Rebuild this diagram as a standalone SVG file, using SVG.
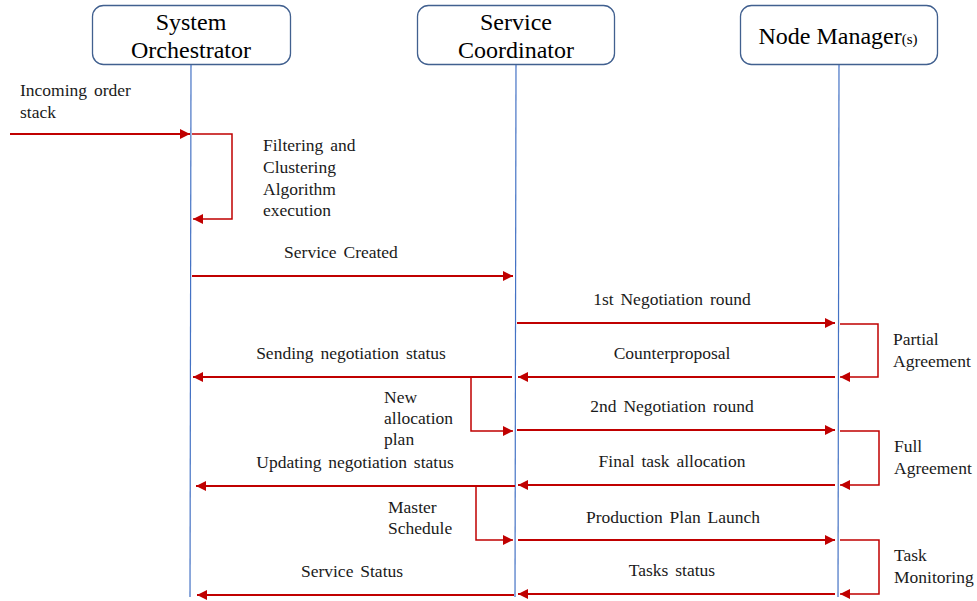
<svg xmlns="http://www.w3.org/2000/svg" width="977" height="601" viewBox="0 0 977 601">
  <defs>
    <marker id="ah" viewBox="0 0 10 10" refX="10" refY="5" markerWidth="10" markerHeight="10" markerUnits="userSpaceOnUse" orient="auto">
      <path d="M0,0 L10,5 L0,10 Z" fill="#C00000"/>
    </marker>
  </defs>
  <style>
    .box { fill: #ffffff; stroke: #41608F; stroke-width: 1.3; }
    .life { stroke: #4472C4; stroke-width: 1.2; fill: none; }
    .msg { stroke: #C00000; stroke-width: 2; fill: none; marker-end: url(#ah); }
    .loop { stroke: #C00000; stroke-width: 1.5; fill: none; marker-end: url(#ah); }
    .hd { font-family: 'Liberation Serif', 'Times New Roman', serif; font-size: 24px; fill: #000; text-anchor: middle; }
    .lb { font-family: 'Liberation Serif', 'Times New Roman', serif; font-size: 17.5px; fill: #1a1a1a; word-spacing: 2.5px; }
    .c { text-anchor: middle; }
  </style>

  <!-- participants -->
  <g id="system-orchestrator">
    <rect class="box" x="92.5" y="5.5" width="198" height="59" rx="11"/>
    <text class="hd" x="191" y="30">System</text>
    <text class="hd" x="191" y="58">Orchestrator</text>
  </g>
  <g id="service-coordinator">
    <rect class="box" x="417.5" y="5.5" width="197" height="59" rx="11"/>
    <text class="hd" x="516" y="30">Service</text>
    <text class="hd" x="516" y="58">Coordinator</text>
  </g>
  <g id="node-manager">
    <rect class="box" x="740.5" y="5.5" width="197" height="59" rx="11"/>
    <text class="hd" x="838" y="44">Node Manager<tspan font-size="15px">(s)</tspan></text>
  </g>

  <!-- lifelines -->
  <g id="lifelines">
    <line class="life" x1="191" y1="65" x2="190" y2="597"/>
    <line class="life" x1="516" y1="65" x2="515" y2="597"/>
    <line class="life" x1="839" y1="65" x2="838" y2="597"/>
  </g>

  <!-- messages -->
  <g id="connectors">
    <line class="msg" x1="10" y1="134" x2="190" y2="134"/>
    <polyline class="loop" points="192,134 232,134 232,219 193,219"/>
    <line class="msg" x1="192" y1="276" x2="513" y2="276"/>
    <line class="msg" x1="517" y1="323" x2="835" y2="323"/>
    <polyline class="loop" points="840,324 878,324 878,377 840,377"/>
    <line class="msg" x1="835" y1="377" x2="518" y2="377"/>
    <line class="msg" x1="512" y1="377" x2="193" y2="377"/>
    <polyline class="loop" points="471,377 471,431 513,431"/>
    <line class="msg" x1="517" y1="430" x2="835" y2="430"/>
    <polyline class="loop" points="840,431 879,431 879,485 840,485"/>
    <line class="msg" x1="835" y1="485" x2="518" y2="485"/>
    <line class="msg" x1="515" y1="486" x2="196" y2="486"/>
    <polyline class="loop" points="476,486 476,540 513,540"/>
    <line class="msg" x1="518" y1="540" x2="835" y2="540"/>
    <polyline class="loop" points="840,540 879,540 879,594 840,594"/>
    <line class="msg" x1="835" y1="594" x2="518" y2="594"/>
    <line class="msg" x1="514" y1="595" x2="197" y2="595"/>
  </g>

  <!-- message labels -->
  <g id="labels">
    <text class="lb" x="20" y="96">Incoming order</text>
    <text class="lb" x="20" y="118">stack</text>
    <text class="lb" x="263" y="151">Filtering and</text>
    <text class="lb" x="263" y="173">Clustering</text>
    <text class="lb" x="263" y="195">Algorithm</text>
    <text class="lb" x="263" y="216">execution</text>
    <text class="lb c" x="341" y="258">Service Created</text>
    <text class="lb c" x="672" y="305">1st Negotiation round</text>
    <text class="lb" x="893" y="345">Partial</text>
    <text class="lb" x="893" y="367">Agreement</text>
    <text class="lb c" x="351" y="359">Sending negotiation status</text>
    <text class="lb c" x="672" y="359">Counterproposal</text>
    <text class="lb" x="384" y="403">New</text>
    <text class="lb" x="384" y="424">allocation</text>
    <text class="lb" x="384" y="445">plan</text>
    <text class="lb c" x="672" y="412">2nd Negotiation round</text>
    <text class="lb" x="894" y="452">Full</text>
    <text class="lb" x="894" y="474">Agreement</text>
    <text class="lb c" x="355" y="468">Updating negotiation status</text>
    <text class="lb c" x="672" y="467">Final task allocation</text>
    <text class="lb" x="388" y="513">Master</text>
    <text class="lb" x="388" y="534">Schedule</text>
    <text class="lb c" x="673" y="523">Production Plan Launch</text>
    <text class="lb" x="894" y="561">Task</text>
    <text class="lb" x="894" y="583">Monitoring</text>
    <text class="lb c" x="352" y="577">Service Status</text>
    <text class="lb c" x="672" y="576">Tasks status</text>
  </g>
</svg>
